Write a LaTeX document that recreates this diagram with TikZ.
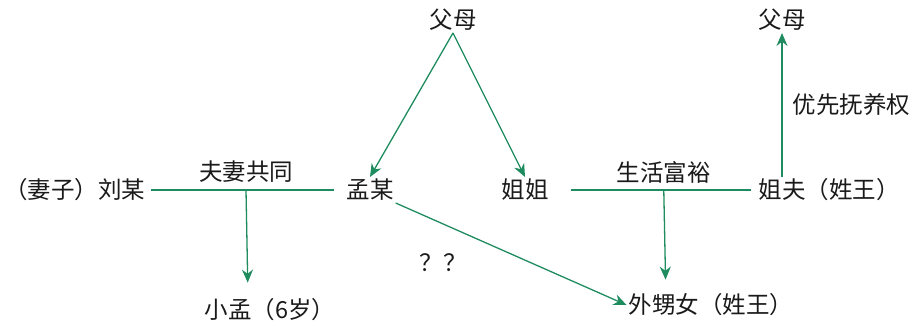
\documentclass[tikz,border=0pt]{standalone}
\usepackage{fontspec}
\setmainfont{Noto Sans CJK SC}
\usetikzlibrary{arrows.meta,positioning,calc}
\definecolor{fgreen}{HTML}{1E8C5F}
\definecolor{fink}{HTML}{1A1A1A}

\begin{document}
\begin{tikzpicture}[x=1pt,y=-1pt,
  every node/.style={font=\fontsize{23.5}{26}\selectfont,text=fink,inner sep=2pt},
  link/.style={fgreen,line width=1.3pt},
  arr/.style={link,-{Stealth[length=13pt,width=11pt]}}]
  \useasboundingbox (0,0) rectangle (914,325);

  \node (liu) at (75,190) {（妻子）刘某};
  \node (meng) at (370,190) {孟某};
  \node (par) at (453,20) {父母};
  \node (sis) at (525,190) {姐姐};
  \node (hus) at (829,190) {姐夫（姓王）};
  \node (par2) at (782,20) {父母};
  \node (kid) at (270,310) {小孟（6岁）};
  \node (niece) at (711,305) {外甥女（姓王）};

  % couples
  \draw[link,shorten <=3pt,shorten >=10pt] (liu.east) -- coordinate[pos=0.5] (c1) (meng.west);
  \draw[link,shorten <=20pt,shorten >=5pt] (sis.east) -- coordinate[pos=0.55] (c2) (hus.west);
  \node (lab1) at ($(c1)+(0,-18)$) {夫妻共同};
  \node (lab2) at ($(c2)+(0,-18)$) {生活富裕};
  \draw[arr,shorten >=14pt] (c1) -- ($(c1|-kid.north)+(2,0)$);
  \draw[arr,shorten >=12pt] (c2) -- ($(c2|-niece.north)+(2,0)$);

  \draw[arr] (par.south) -- (meng.north);
  \draw[arr] (par.south) -- (sis.north);
  \draw[arr] (hus.north-|par2) -- node[right=8pt] (lab3) {优先抚养权} (par2.south);
  \draw[arr] (meng.south east) -- (niece.west);
  \node (lab4) at (443,263) {？？};
\end{tikzpicture}
\end{document}
